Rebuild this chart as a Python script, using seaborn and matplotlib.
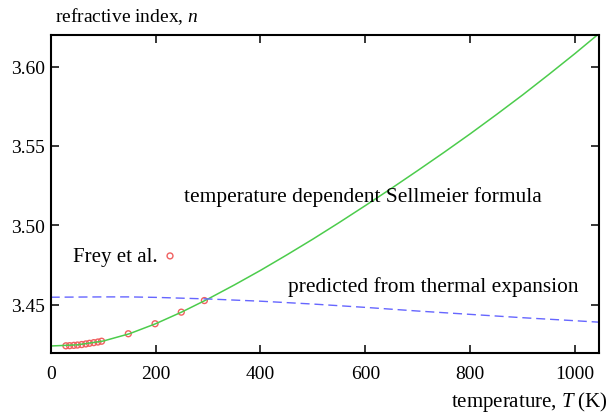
import matplotlib
matplotlib.use("Agg")
import matplotlib.pyplot as plt
import seaborn as sns
import pandas as pd

# Sellmeier curve (temperature dependent)
sell_T = [0, 50, 100, 150, 200, 250, 300, 350, 400, 450, 500, 550, 600, 650,
          700, 750, 800, 850, 900, 950, 1000, 1050]
sell_n = [3.4241, 3.4248, 3.4272, 3.4318, 3.4381, 3.4455, 3.4537, 3.4625,
          3.4717, 3.4814, 3.4914, 3.5018, 3.5125, 3.5234, 3.5346, 3.5460,
          3.5577, 3.5698, 3.5822, 3.5951, 3.6083, 3.6220]

# Predicted from thermal expansion
therm_T = [0, 100, 150, 200, 300, 400, 500, 600, 700, 800, 900, 1000, 1050]
therm_n = [3.4548, 3.4550, 3.4550, 3.4547, 3.4537, 3.4523, 3.4505, 3.4484,
           3.4461, 3.4440, 3.4419, 3.4400, 3.4390]

# Frey et al. measurements
frey_T = [29, 36, 44, 51, 59, 67, 74, 82, 90, 97, 148, 199, 249, 293]
frey_n = [3.4242, 3.4243, 3.4245, 3.4247, 3.4250, 3.4254, 3.4258, 3.4262,
          3.4266, 3.4271, 3.4318, 3.4381, 3.4454, 3.4527]

legend_T = [227.5]
legend_n = [3.4808]

x_ticks = [0, 200, 400, 600, 800, 1000]
y_ticks = [3.45, 3.50, 3.55, 3.60]
y_labels = ["3.45", "3.50", "3.55", "3.60"]

sns.set_style("ticks")
plt.rcParams["font.family"] = ["Liberation Serif", "DejaVu Serif"]
plt.rcParams["mathtext.fontset"] = "custom"
plt.rcParams["mathtext.rm"] = "Liberation Serif"
plt.rcParams["mathtext.it"] = "Liberation Serif:italic"
plt.rcParams["text.color"] = "black"

FS = 14
FA = 15.4
fig = plt.figure(figsize=(6.13, 4.14), dpi=100)
ax = fig.add_axes([50.7 / 613, 1 - 353.5 / 414, (599.3 - 50.7) / 613, (353.5 - 35.8) / 414])

df_s = pd.DataFrame({"T": sell_T, "n": sell_n})
df_t = pd.DataFrame({"T": therm_T, "n": therm_n})
df_f = pd.DataFrame({"T": frey_T, "n": frey_n})
df_l = pd.DataFrame({"T": legend_T, "n": legend_n})

sns.lineplot(data=df_s, x="T", y="n", ax=ax, color="#4ccc4c", linewidth=1.1)
sns.lineplot(data=df_t, x="T", y="n", ax=ax, color="#6666ff", linewidth=1.0,
             dashes=False)
ax.lines[-1].set_dashes((6.5, 3.5))
for d in (df_f, df_l):
    sns.scatterplot(data=d, x="T", y="n", ax=ax, marker="o", s=18,
                    facecolor="none", edgecolor="#f06060", linewidth=1.0)

ax.set_xlim(0, 1046)
ax.set_ylim(3.42, 3.62)
ax.set_xticks(x_ticks)
ax.set_xticklabels([str(v) for v in x_ticks])
ax.set_yticks(y_ticks)
ax.set_yticklabels(y_labels)
ax.set_xlabel("")
ax.set_ylabel("")
ax.tick_params(direction="in", length=6, width=1.1, top=True, right=True,
               labelsize=FS, colors="black")
ax.tick_params(axis="x", pad=9)
ax.tick_params(axis="y", pad=4)
for sp in ax.spines.values():
    sp.set_visible(True)
    sp.set_linewidth(1.5)
    sp.set_color("black")

ax.text(254, 3.5186, "temperature dependent Sellmeier formula", fontsize=FA,
        va="center", ha="left", color="black")
ax.text(452, 3.462, "predicted from thermal expansion", fontsize=FA,
        va="center", ha="left", color="black")
ax.text(42.5, 3.4802, "Frey et al.", fontsize=15, va="center", ha="left",
        color="black")

fig.text(55 / 613, 1 - 17 / 414, "refractive index, $n$", fontsize=FS,
         va="center", ha="left", color="black")
fig.text(608 / 613, 1 - 402 / 414, "temperature, $T$ (K)", fontsize=15,
         va="center", ha="right", color="black")

fig.savefig("out.png", dpi=100)
